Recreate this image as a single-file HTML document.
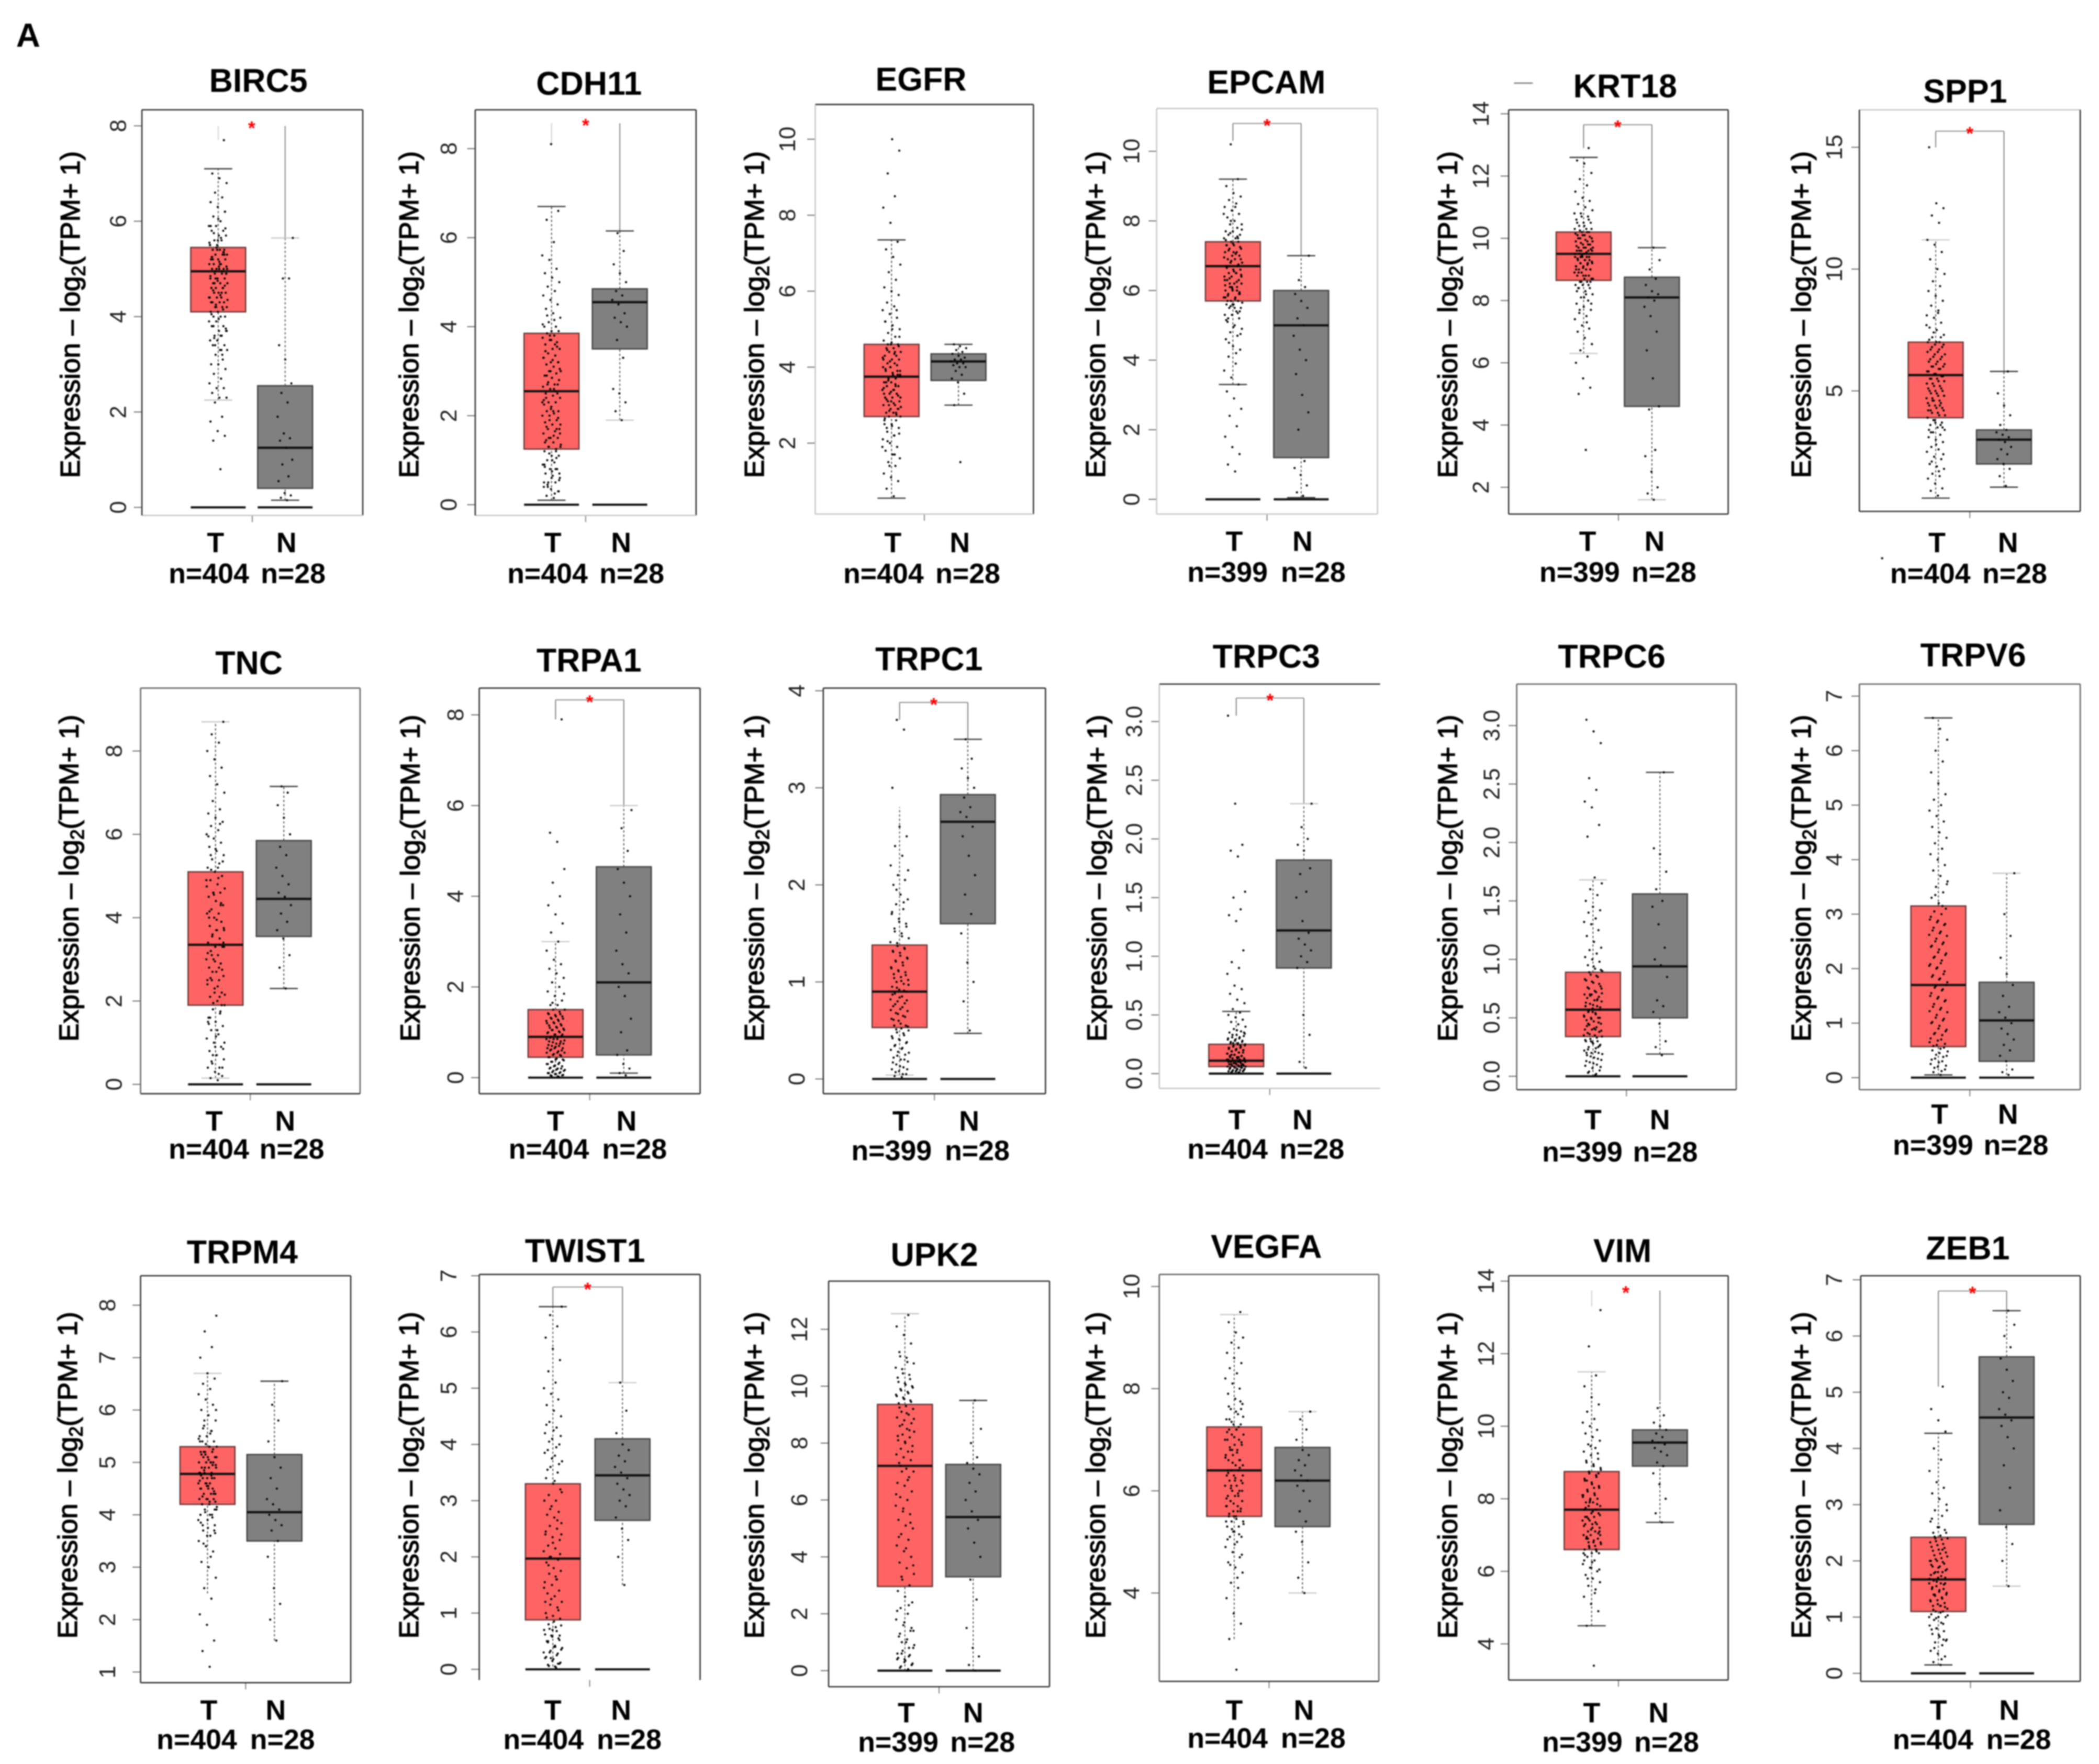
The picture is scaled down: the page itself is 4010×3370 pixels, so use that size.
<!DOCTYPE html>
<html lang="en">
<head>
<meta charset="utf-8">
<title>Gene expression boxplots</title>
<style>
html,body{margin:0;padding:0;background:#fff;width:4010px;height:3370px;overflow:hidden}
svg{display:block;filter:blur(1.4px)}
text{font-family:"Liberation Sans",Arial,sans-serif;fill:#000}
.title{font-weight:700;font-size:24.5px;text-anchor:middle}
.cat{font-weight:700;font-size:21px;text-anchor:middle}
.ylab{font-size:20.4px;text-anchor:middle;stroke:#000;stroke-width:.55px}
.tick{font-size:17px;text-anchor:middle;fill:#222}
.panel-letter{font-weight:700;font-size:25px}
.star{font-size:14px;fill:#f00;text-anchor:middle;font-weight:700}
</style>
</head>
<body>
<svg id="fig" xmlns="http://www.w3.org/2000/svg" width="4010" height="3370" viewBox="0 0 1568 1317.7">
<rect x="0" y="0" width="1568" height="1318" fill="#fff"/>
<text class="panel-letter" x="12" y="35">A</text>
<rect x="1131" y="61.6" width="14" height="0.9" fill="#777"/>
<circle cx="1406" cy="417" r="0.9" fill="#222"/>
</svg>
<script>
// ---------- DATA ----------
const genes = ["BIRC5","CDH11","EGFR","EPCAM","KRT18","SPP1","TNC","TRPA1","TRPC1","TRPC3","TRPC6","TRPV6","TRPM4","TWIST1","UPK2","VEGFA","VIM","ZEB1"];
const tumorCounts = [404,404,404,399,399,404,404,404,399,404,399,399,404,404,399,404,399,404];
const normalCounts = [28,28,28,28,28,28,28,28,28,28,28,28,28,28,28,28,28,28];
const tickLabels = [
 ["0","2","4","6","8"],["0","2","4","6","8"],["2","4","6","8","10"],["0","2","4","6","8","10"],["2","4","6","8","10","12","14"],["5","10","15"],
 ["0","2","4","6","8"],["0","2","4","6","8"],["0","1","2","3","4"],["0.0","0.5","1.0","1.5","2.0","2.5","3.0"],["0.0","0.5","1.0","1.5","2.0","2.5","3.0"],["0","1","2","3","4","5","6","7"],
 ["1","2","3","4","5","6","7","8"],["0","1","2","3","4","5","6","7"],["0","2","4","6","8","10","12"],["4","6","8","10"],["4","6","8","10","12","14"],["0","1","2","3","4","5","6","7"]];
// box statistics: [lower whisker, q1, median, q3, upper whisker]
const tumorBoxes = [
 [2.25,4.1,4.95,5.45,7.1],[0.1,1.25,2.55,3.85,6.7],[0.55,2.7,3.75,4.6,7.35],[3.3,5.7,6.7,7.4,9.2],[6.3,8.65,9.5,10.2,12.6],[0.6,3.9,5.65,7,11.2],
 [0.15,1.9,3.35,5.1,8.7],[0.05,0.45,0.9,1.5,3],[0.04,0.53,0.9,1.38,2.8],[0,0.06,0.11,0.25,0.53],[0,0.34,0.57,0.89,1.68],[0.05,0.57,1.7,3.15,6.6],
 [2.5,4.2,4.78,5.3,6.7],[0.05,0.88,1.97,3.3,6.45],[0,2.96,7.2,9.36,12.55],[3.1,5.5,6.4,7.25,9.45],[4.5,6.6,7.7,8.75,11.5],[0.15,1.1,1.67,2.42,4.27]];
const normalBoxes = [
 [0.15,0.4,1.25,2.55,5.65],[1.9,3.5,4.55,4.85,6.15],[3,3.65,4.15,4.35,4.6],[0.05,1.2,5,6,7],[1.6,4.6,8.1,8.75,9.7],[1.05,2,3,3.4,5.8],
 [2.3,3.55,4.45,5.85,7.15],[0.1,0.5,2.1,4.65,6],[0.47,1.6,2.65,2.93,3.5],[0.05,0.9,1.22,1.82,2.3],[0.19,0.5,0.94,1.56,2.6],[0.05,0.3,1.05,1.75,3.75],
 [1.6,3.5,4.05,5.15,6.55],[1.5,2.65,3.45,4.1,5.1],[0,3.3,5.4,7.25,9.5],[4,5.3,6.2,6.85,7.55],[7.35,8.9,9.55,9.9,10.7],[1.55,2.65,4.55,5.63,6.45]];
const hasZeroBar = [1,1,0,1,0,0,1,1,1,1,1,1,0,1,1,0,0,1];
// significance: 0 none, 1 star with legs only, 2 full bracket
const sigKinds = [1,1,0,2,2,2,0,2,2,2,0,0,0,2,0,0,1,2];
const sigLevels = [8,8.57,0,10.8,13.65,15.66,0,8.33,3.88,3.2,0,0,0,6.8,0,0,13.74,6.8];
const sigLeftEnds = [7.7,8.1,0,10.3,12.9,15,0,7.9,3.7,3.05,0,0,0,6.45,0,0,13.3,5.1];
const tumorDots = [
 [0.8,1.4,1.5,1.6,1.8,1.9,2.2,2.3,2.3,2.4,2.5,2.5,2.6,2.7,2.8,2.9,3,3,3.1,3.2,3.3,3.3,3.4,3.4,3.5,3.5,3.6,3.6,3.7,3.7,3.8,3.8,3.9,3.9,4,4,4,4.1,4.1,4.2,4.2,4.2,4.3,4.3,4.3,4.4,4.4,4.4,4.5,4.5,4.5,4.6,4.6,4.6,4.7,4.7,4.7,4.8,4.8,4.8,4.9,4.9,4.9,5,5,5,5,5.1,5.1,5.1,5.2,5.2,5.2,5.3,5.3,5.3,5.4,5.4,5.4,5.5,5.5,5.6,5.6,5.7,5.7,5.8,5.8,5.9,5.9,6,6.1,6.2,6.3,6.4,6.5,6.6,6.8,6.9,7,7.7],
 [0.15,0.2,0.3,0.35,0.4,0.5,0.5,0.6,0.65,0.7,0.8,0.8,0.9,0.95,1,1.1,1.1,1.2,1.25,1.3,1.3,1.4,1.45,1.5,1.5,1.6,1.65,1.7,1.7,1.8,1.85,1.9,1.9,2,2.05,2.1,2.1,2.2,2.25,2.3,2.3,2.4,2.45,2.5,2.5,2.6,2.65,2.7,2.7,2.8,2.85,2.9,2.95,3,3,3.1,3.15,3.2,3.2,3.3,3.35,3.4,3.5,3.5,3.6,3.65,3.7,3.75,3.8,3.85,3.9,3.9,4,4,4.1,4.2,4.3,4.4,4.5,4.6,4.7,4.8,4.9,5,5.1,5.2,5.3,5.5,5.6,5.9,6.4,6.6,8.1],
 [0.6,0.8,1,1.1,1.2,1.4,1.5,1.6,1.7,1.8,1.9,2,2.1,2.2,2.3,2.4,2.5,2.5,2.6,2.7,2.7,2.8,2.8,2.9,2.9,3,3,3.1,3.1,3.2,3.2,3.3,3.3,3.4,3.4,3.5,3.5,3.6,3.6,3.7,3.7,3.8,3.8,3.9,3.9,4,4,4.1,4.1,4.2,4.2,4.3,4.3,4.4,4.4,4.5,4.5,4.6,4.6,4.7,4.8,4.9,5,5.1,5.2,5.3,5.4,5.5,5.6,5.7,5.9,6,6.1,6.3,6.5,6.7,6.9,7.1,7.3,7.8,8.2,8.5,9.1,9.7,10],
 [0.8,1,1.3,1.5,1.8,2.1,2.4,2.6,2.9,3.1,3.3,3.5,3.7,3.9,4.1,4.3,4.4,4.6,4.7,4.8,4.9,5,5.1,5.2,5.3,5.3,5.4,5.5,5.5,5.6,5.6,5.7,5.7,5.8,5.8,5.9,5.9,6,6,6.1,6.1,6.2,6.2,6.3,6.3,6.4,6.4,6.5,6.5,6.6,6.6,6.7,6.7,6.8,6.8,6.9,6.9,7,7,7.1,7.1,7.2,7.2,7.3,7.3,7.4,7.4,7.5,7.5,7.6,7.6,7.7,7.7,7.8,7.9,7.9,8,8.1,8.2,8.3,8.4,8.5,8.6,8.7,8.8,9,9.2,10.2],
 [3.2,5,5.2,5.5,6,6.2,6.4,6.6,6.8,7,7.1,7.2,7.4,7.5,7.6,7.7,7.8,7.9,8,8.1,8.2,8.3,8.4,8.4,8.5,8.5,8.6,8.6,8.7,8.7,8.8,8.8,8.9,8.9,9,9,9,9.1,9.1,9.2,9.2,9.2,9.3,9.3,9.3,9.4,9.4,9.4,9.5,9.5,9.5,9.6,9.6,9.6,9.7,9.7,9.7,9.8,9.8,9.9,9.9,10,10,10.1,10.1,10.2,10.2,10.3,10.3,10.4,10.5,10.5,10.6,10.7,10.8,10.9,11,11.1,11.2,11.3,11.5,11.7,11.9,12.1,12.4,12.5,12.9],
 [0.7,0.9,1,1.2,1.4,1.5,1.6,1.8,1.9,2,2.2,2.3,2.5,2.6,2.7,2.9,3,3.1,3.2,3.3,3.4,3.5,3.6,3.7,3.8,3.9,4,4.1,4.2,4.3,4.4,4.5,4.6,4.7,4.8,4.9,5,5,5.1,5.2,5.3,5.4,5.5,5.5,5.6,5.7,5.8,5.9,6,6,6.1,6.2,6.3,6.4,6.5,6.6,6.7,6.8,6.9,7,7,7.2,7.3,7.5,7.6,7.8,8,8.1,8.3,8.5,8.7,8.9,9.1,9.3,9.5,9.8,10,10.4,10.7,11,11.2,11.9,12.2,12.5,12.7,15],
 [0.1,0.15,0.2,0.3,0.4,0.4,0.5,0.6,0.7,0.8,0.9,1,1.1,1.2,1.3,1.4,1.5,1.6,1.7,1.8,1.9,2,2.1,2.2,2.3,2.4,2.5,2.5,2.6,2.7,2.8,2.9,3,3,3.1,3.2,3.3,3.3,3.4,3.5,3.6,3.7,3.7,3.8,3.9,4,4.1,4.1,4.2,4.3,4.4,4.5,4.6,4.6,4.7,4.8,4.9,5,5.1,5.2,5.3,5.4,5.5,5.6,5.7,5.8,5.9,6,6.1,6.2,6.3,6.4,6.5,6.6,6.8,7,7.2,7.4,7.6,7.8,8,8.2,8.4,8.7],
 [0.03,0.05,0.05,0.08,0.1,0.1,0.12,0.15,0.18,0.2,0.2,0.25,0.3,0.3,0.35,0.4,0.4,0.45,0.5,0.5,0.55,0.55,0.6,0.6,0.65,0.65,0.7,0.7,0.75,0.75,0.8,0.8,0.85,0.85,0.9,0.9,0.95,0.95,1,1,1.05,1.05,1.1,1.1,1.15,1.2,1.2,1.25,1.3,1.3,1.35,1.4,1.4,1.5,1.5,1.6,1.6,1.7,1.8,1.9,2,2.1,2.2,2.3,2.4,2.5,2.6,2.8,3,3.2,3.4,3.6,3.8,4,4.3,4.6,5.2,5.4,7.9],
 [0.02,0.03,0.05,0.08,0.1,0.12,0.15,0.18,0.2,0.22,0.25,0.28,0.3,0.32,0.35,0.38,0.4,0.42,0.45,0.48,0.5,0.52,0.55,0.55,0.6,0.62,0.65,0.68,0.7,0.72,0.75,0.78,0.8,0.82,0.85,0.88,0.9,0.92,0.95,0.98,1,1.02,1.05,1.08,1.1,1.12,1.15,1.2,1.22,1.25,1.3,1.32,1.35,1.4,1.45,1.5,1.55,1.6,1.65,1.7,1.75,1.8,1.85,1.9,2,2.05,2.1,2.2,2.3,2.4,2.5,2.6,3,3.6,3.7],
 [0.01,0.01,0.02,0.02,0.02,0.03,0.03,0.04,0.04,0.05,0.05,0.05,0.06,0.06,0.07,0.07,0.08,0.08,0.09,0.09,0.1,0.1,0.1,0.11,0.11,0.12,0.12,0.13,0.13,0.14,0.15,0.15,0.16,0.17,0.18,0.19,0.2,0.2,0.21,0.22,0.23,0.24,0.25,0.26,0.27,0.28,0.29,0.3,0.31,0.32,0.33,0.35,0.36,0.38,0.4,0.42,0.44,0.46,0.48,0.5,0.52,0.55,0.6,0.63,0.68,0.72,0.75,0.85,0.9,0.95,1.05,1.3,1.35,1.4,1.5,1.55,1.85,1.9,1.95,2.3,3.05],
 [0.01,0.03,0.05,0.07,0.09,0.1,0.12,0.14,0.16,0.18,0.2,0.2,0.22,0.24,0.25,0.27,0.28,0.3,0.3,0.32,0.34,0.35,0.37,0.38,0.4,0.4,0.42,0.44,0.45,0.47,0.48,0.5,0.5,0.52,0.54,0.55,0.57,0.58,0.6,0.6,0.62,0.64,0.65,0.67,0.68,0.7,0.7,0.72,0.75,0.77,0.8,0.82,0.85,0.87,0.9,0.92,0.95,0.98,1,1.02,1.05,1.08,1.1,1.15,1.2,1.25,1.3,1.32,1.35,1.4,1.42,1.45,1.5,1.55,1.6,1.65,1.7,2.05,2.15,2.3,2.35,2.45,2.55,2.85,2.95,3.05],
 [0.05,0.1,0.15,0.2,0.25,0.3,0.35,0.4,0.45,0.5,0.55,0.6,0.65,0.7,0.8,0.85,0.9,1,1.05,1.1,1.2,1.25,1.3,1.4,1.45,1.5,1.6,1.65,1.7,1.8,1.85,1.9,2,2.05,2.1,2.2,2.25,2.3,2.4,2.45,2.5,2.6,2.65,2.7,2.8,2.85,2.9,3,3.05,3.1,3.2,3.3,3.4,3.5,3.6,3.7,3.8,3.9,4,4.1,4.2,4.3,4.4,4.5,4.6,4.7,4.8,4.9,5,5.1,5.2,5.4,5.6,5.8,6,6.2,6.4,6.6],
 [1.1,1.4,1.6,1.9,2.1,2.4,2.6,2.8,3,3.1,3.3,3.4,3.5,3.6,3.7,3.8,3.9,4,4,4.1,4.1,4.2,4.2,4.3,4.3,4.3,4.4,4.4,4.4,4.5,4.5,4.5,4.6,4.6,4.6,4.7,4.7,4.7,4.8,4.8,4.8,4.9,4.9,4.9,5,5,5,5,5.1,5.1,5.1,5.2,5.2,5.2,5.3,5.3,5.4,5.4,5.5,5.5,5.6,5.7,5.8,5.9,6,6.1,6.2,6.3,6.4,6.5,6.6,6.7,7,7.2,7.5,7.8],
 [0.05,0.08,0.1,0.15,0.2,0.25,0.3,0.35,0.4,0.5,0.55,0.6,0.7,0.75,0.8,0.9,0.95,1,1.1,1.15,1.2,1.3,1.35,1.4,1.5,1.55,1.6,1.7,1.75,1.8,1.9,1.95,2,2.1,2.15,2.2,2.3,2.35,2.4,2.5,2.55,2.6,2.7,2.75,2.8,2.9,3,3,3.1,3.2,3.3,3.4,3.5,3.6,3.7,3.8,3.9,4,4.1,4.2,4.3,4.4,4.5,4.6,4.7,4.8,4.9,5,5.1,5.3,5.5,5.7,5.9,6.1,6.3,6.45],
 [0,0.1,0.2,0.3,0.4,0.5,0.6,0.8,1,1.2,1.4,1.6,1.8,2,2.2,2.4,2.6,2.8,3,3.2,3.4,3.6,3.8,4,4.2,4.4,4.6,4.8,5,5.1,5.3,5.5,5.6,5.8,6,6.1,6.3,6.5,6.6,6.8,7,7,7.1,7.3,7.4,7.5,7.6,7.7,7.8,7.9,8,8.1,8.2,8.3,8.4,8.5,8.6,8.7,8.8,8.9,9,9.1,9.2,9.3,9.4,9.5,9.6,9.7,9.8,9.9,10,10.1,10.3,10.4,10.6,10.8,11,11.2,11.5,11.8,12.1,12.5],
 [2.5,3.1,3.4,3.6,3.9,4.1,4.2,4.4,4.5,4.6,4.7,4.8,4.9,5,5.1,5.1,5.2,5.3,5.3,5.4,5.4,5.5,5.5,5.6,5.6,5.7,5.7,5.8,5.8,5.9,5.9,6,6,6.1,6.1,6.2,6.2,6.3,6.3,6.4,6.4,6.5,6.5,6.6,6.6,6.7,6.7,6.8,6.8,6.9,6.9,7,7,7.1,7.1,7.2,7.2,7.3,7.3,7.4,7.5,7.6,7.7,7.8,7.9,8,8.1,8.2,8.3,8.4,8.5,8.6,8.7,8.8,8.9,9,9.1,9.3,9.5],
 [3.4,4.5,4.9,5.1,5.3,5.5,5.6,5.7,5.8,5.9,6,6.1,6.2,6.3,6.4,6.5,6.5,6.6,6.6,6.7,6.8,6.8,6.9,6.9,7,7,7.1,7.1,7.2,7.2,7.3,7.3,7.4,7.4,7.5,7.5,7.6,7.6,7.7,7.7,7.8,7.8,7.9,7.9,8,8,8.1,8.1,8.2,8.3,8.4,8.5,8.6,8.7,8.8,8.9,9,9.1,9.2,9.3,9.4,9.5,9.6,9.7,9.8,9.9,10,10.1,10.2,10.4,10.6,10.8,11.1,11.4,12.2,13.2],
 [0.15,0.2,0.3,0.35,0.4,0.5,0.55,0.6,0.65,0.7,0.75,0.8,0.85,0.9,0.95,1,1,1.05,1.1,1.1,1.15,1.2,1.2,1.25,1.3,1.3,1.35,1.4,1.4,1.45,1.5,1.5,1.55,1.6,1.6,1.65,1.7,1.7,1.75,1.8,1.8,1.85,1.9,1.9,1.95,2,2,2.05,2.1,2.15,2.2,2.25,2.3,2.35,2.4,2.45,2.5,2.55,2.6,2.7,2.8,2.9,3,3.1,3.2,3.3,3.4,3.6,3.8,4,4.3,4.5,4.7,5.1]
];
// further readings from the dense central part of each tumor column
const tumorDotsDense = [
 [3.3,3.55,3.75,3.95,4.05,4.15,4.25,4.35,4.45,4.55,4.65,4.75,4.85,4.95,4.95,5.05,5.15,5.25,5.35,5.45,5.55,5.65,5.75,5.85,6.05,4.3,4.6,4.8,5,5.1,5.2,5.3,5.4,5.5,4.5,4.7,4.9,5.05,5.25,5.35,4.2,4.4,3.6,3.8,6.2,5.6,5.9,3.2,3.4,3.7],
 [0.25,0.45,0.55,0.75,0.85,1.05,1.15,1.35,1.55,1.75,1.95,2.15,2.35,2.55,2.75,3.05,3.25,3.45,3.55,3.8,4.05,4.15,4.25,0.3,0.6,0.9,1.2,1.5,1.8,2.1,2.4,2.7,3,3.3,3.6,0.4,0.7,1,1.4,1.7,2,2.3,2.6,2.9,3.2,3.7,0.5,0.8,1.3,1.6],
 [1.7,2.05,2.25,2.45,2.65,2.75,2.85,2.95,3.05,3.15,3.25,3.35,3.45,3.55,3.65,3.75,3.85,3.95,4.05,4.15,4.25,4.35,4.45,4.55,4.65,2.6,2.8,3,3.2,3.4,3.6,3.8,4,4.2,4.4,4.6,4.8,5,5.2,5.5,1.4,1.9,2.2,2.4,2.9,3.1,3.3,3.5,3.7,3.9],
 [4.2,4.5,4.75,4.95,5.15,5.35,5.55,5.65,5.75,5.85,5.95,6.05,6.15,6.25,6.35,6.45,6.55,6.65,6.75,6.85,6.95,7.05,7.15,7.25,7.35,7.45,7.55,7.65,7.75,5.5,5.7,5.9,6.1,6.3,6.5,6.7,6.9,7.1,7.3,7.5,8,8.2,8.4,5.2,5.4,5.6,5.8,6,6.2,6.4],
 [7.3,7.7,7.9,8.1,8.3,8.5,8.6,8.7,8.8,8.9,9,9.05,9.1,9.15,9.2,9.25,9.3,9.35,9.4,9.45,9.5,9.55,9.6,9.65,9.7,9.75,9.8,9.85,9.9,9.95,10,10.05,10.1,10.15,10.2,10.25,10.3,10.4,10.5,10.6,10.7,10.8,8.2,8.4,8.6,8.8,9,9.2,9.4,9.6],
 [1.7,2.1,2.4,2.8,3.4,3.6,3.8,4,4.1,4.2,4.3,4.4,4.5,4.6,4.7,4.8,4.9,5,5.1,5.2,5.3,5.4,5.5,5.6,5.7,5.8,5.9,6,6.1,6.2,6.3,6.4,6.5,6.6,6.7,6.8,6.9,7,7.1,7.2,7.4,7.7,8.2,3.3,3.5,3.7,4.2,4.4,4.6,4.8],
 [0.25,0.55,0.85,1.15,1.45,1.75,1.95,2.15,2.35,2.55,2.75,2.95,3.15,3.35,3.55,3.75,3.95,4.15,4.35,4.55,4.75,4.95,5.15,5.35,5.65,5.95,6.25,0.7,1,1.3,1.6,1.9,2.2,2.5,2.8,3.1,3.4,3.7,4,4.3,4.6,4.9,5.2,5.5,0.4,0.9,1.5,2.1,2.7,3.3],
 [0.02,0.04,0.06,0.08,0.1,0.12,0.15,0.17,0.2,0.22,0.25,0.27,0.3,0.33,0.35,0.38,0.42,0.45,0.48,0.52,0.55,0.58,0.62,0.65,0.68,0.72,0.75,0.78,0.82,0.85,0.88,0.92,0.95,0.98,1.02,1.05,1.08,1.12,1.15,1.18,1.22,1.25,1.28,1.32,1.35,1.38,1.42,1.45,1.65,1.85],
 [0.05,0.07,0.1,0.13,0.17,0.2,0.24,0.27,0.31,0.34,0.37,0.41,0.44,0.47,0.51,0.54,0.57,0.61,0.64,0.67,0.71,0.74,0.77,0.81,0.84,0.87,0.91,0.94,0.97,1.01,1.04,1.07,1.11,1.14,1.17,1.21,1.24,1.27,1.31,1.34,1.37,1.41,1.47,1.52,1.57,1.62,1.72,1.82,1.95,2.15],
 [0.01,0.02,0.03,0.03,0.04,0.05,0.06,0.06,0.07,0.08,0.08,0.09,0.1,0.1,0.11,0.12,0.13,0.14,0.15,0.16,0.17,0.18,0.19,0.2,0.21,0.22,0.23,0.24,0.25,0.26,0.27,0.28,0.29,0.3,0.31,0.33,0.35,0.37,0.04,0.07,0.09,0.12,0.14,0.16,0.18,0.2,0.22,0.24,0.26,0.34],
 [0.02,0.04,0.08,0.11,0.13,0.15,0.17,0.19,0.21,0.23,0.26,0.29,0.31,0.33,0.36,0.39,0.41,0.43,0.46,0.49,0.51,0.53,0.56,0.59,0.61,0.63,0.66,0.69,0.71,0.73,0.76,0.79,0.81,0.83,0.86,0.89,0.91,0.94,0.2,0.25,0.3,0.35,0.4,0.45,0.5,0.55,0.6,0.65,0.7,0.75],
 [0.12,0.18,0.22,0.28,0.33,0.38,0.42,0.48,0.53,0.58,0.62,0.68,0.72,0.78,0.82,0.88,0.95,1.02,1.08,1.15,1.22,1.28,1.35,1.42,1.48,1.55,1.62,1.68,1.75,1.82,1.88,1.95,2.02,2.08,2.15,2.22,2.28,2.35,2.42,2.48,2.55,2.62,2.68,2.75,2.82,2.88,2.95,3.15,3.35,3.55],
 [3.2,3.45,3.65,3.75,3.85,3.95,4.05,4.15,4.25,4.35,4.45,4.55,4.65,4.75,4.85,4.95,5.05,5.15,5.25,5.35,5.45,5.55,5.65,4.1,4.3,4.5,4.7,4.9,5.1,5.3,4.2,4.4,4.6,4.8,5,5.2,4.25,4.55,4.75,4.95,5.15,3.9,4,3.8,3.7,3.6,5.4,5.6,5.8,6],
 [0.03,0.06,0.12,0.18,0.22,0.28,0.33,0.38,0.42,0.48,0.52,0.58,0.62,0.68,0.72,0.78,0.85,0.92,1.05,1.25,1.45,1.65,1.85,2.05,2.25,2.45,2.65,2.85,3.15,3.35,3.55,3.65,3.75,3.85,3.95,4.05,4.15,4.25,4.35,0.1,0.2,0.3,0.4,0.5,0.6,0.7,1.2,1.6,2,2.4],
 [0.05,0.15,0.25,0.35,0.45,0.55,0.7,0.9,1.1,1.3,1.5,1.7,2.1,2.3,3.3,3.7,4.3,4.7,5.2,5.7,6.2,6.7,7.2,7.7,8.05,8.25,8.45,8.65,8.85,9.05,9.25,9.45,9.55,9.65,9.75,9.85,9.95,10.05,10.15,10.25,10.45,10.65,10.85,11.05,0.2,0.4,0.6,0.8,1,1.4],
 [4.3,4.55,4.75,4.95,5.05,5.15,5.25,5.35,5.45,5.55,5.65,5.75,5.85,5.95,6.05,6.15,6.25,6.35,6.45,6.55,6.65,6.75,6.85,6.95,7.05,7.15,7.25,7.35,7.45,7.55,7.65,7.75,5.2,5.4,5.6,5.8,6,6.2,6.4,6.6,6.8,7,7.2,7.4,7.6,5.5,5.7,5.9,6.1,6.3],
 [5.4,5.8,6.05,6.25,6.45,6.55,6.65,6.75,6.85,6.95,7.05,7.15,7.25,7.35,7.45,7.55,7.65,7.75,7.85,7.95,8.05,8.15,8.25,8.35,8.45,8.55,8.65,8.75,8.85,8.95,9.05,9.25,9.45,6.5,6.7,6.9,7.1,7.3,7.5,7.7,7.9,8.1,8.3,8.5,8.7,6.1,6.3,6.6,6.8,7],
 [0.25,0.45,0.58,0.68,0.78,0.88,0.98,1.03,1.08,1.13,1.18,1.23,1.28,1.33,1.38,1.43,1.48,1.53,1.58,1.63,1.68,1.73,1.78,1.83,1.88,1.93,1.98,2.03,2.08,2.13,2.18,2.23,2.28,2.33,2.38,2.43,2.5,2.6,2.75,0.6,0.8,1,1.2,1.4,1.6,1.8,2,2.2,2.4,2.9]
];
const normalDots = [
 [0.15,0.2,0.25,0.3,0.55,0.65,0.9,1,1.25,1.4,1.45,1.55,1.9,2.2,2.4,2.6,3.1,3.4,4.8,4.8,5.65],
 [1.9,2.1,2.3,2.5,2.6,3.3,3.7,4,4.1,4.2,4.3,4.5,4.6,4.7,4.8,5,5.2,5.4,5.7,6.1],
 [1.5,3,3.3,3.6,3.7,3.8,3.9,4,4,4.05,4.1,4.1,4.15,4.2,4.2,4.25,4.3,4.35,4.4,4.45,4.5,4.55,4.6],
 [0.1,0.2,0.4,0.7,0.9,1.1,2,2.5,3,3.6,4,4.3,4.7,5,5.2,5.5,5.7,5.9,6.1,6.3,7],
 [1.6,1.8,2,2.5,3,3.2,4.5,4.6,5.5,6.4,7,7.5,7.8,8,8.1,8.2,8.3,8.5,8.7,9,9.3,9.7],
 [1.1,1.5,1.8,2,2.2,2.4,2.6,2.7,2.9,3,3.1,3.2,3.3,3.4,3.6,4,4.4,4.9,5.8],
 [2.3,2.8,3.1,3.5,3.7,3.9,4.1,4.3,4.5,4.6,4.8,5,5.2,5.5,5.7,6,6.4,6.7,7,7.15],
 [0.05,0.1,0.2,0.3,0.5,0.6,1,1.3,1.8,2,2.3,2.5,2.8,3.2,3.6,4,4.3,4.6,5,5.5,5.9],
 [0.5,0.8,1,1.2,1.5,1.7,1.9,2.1,2.3,2.5,2.6,2.7,2.75,2.8,2.9,3,3.1,3.2,3.3,3.5],
 [0.05,0.1,0.33,0.5,0.9,0.95,1,1.05,1.1,1.15,1.2,1.3,1.5,1.55,1.7,1.75,1.9,1.95,2,2.1,2.3],
 [0.18,0.25,0.3,0.45,0.55,0.6,0.65,0.85,0.95,1,1.1,1.3,1.45,1.5,1.6,1.75,1.9,1.95,2.6],
 [0.05,0.1,0.15,0.3,0.4,0.5,0.6,0.7,0.8,0.9,1,1.1,1.2,1.3,1.5,1.7,1.9,2.2,2.6,3,3.75],
 [1.6,2,2.3,2.6,3.2,3.5,3.7,3.8,3.9,4,4.1,4.2,4.3,4.5,4.7,4.9,5.1,5.4,5.8,6.1,6.55],
 [1.5,2,2.3,2.5,2.7,2.9,3,3.1,3.2,3.3,3.4,3.5,3.6,3.7,3.8,3.9,4,4.2,4.6,5.1],
 [0,0.2,0.5,0.8,1.5,2.5,3.2,4,4.5,5,5.3,5.6,6,6.3,6.6,6.9,7.1,7.3,7.5,8,8.5,9.5],
 [4,4.3,4.6,5,5.2,5.4,5.6,5.8,6,6.1,6.2,6.3,6.4,6.5,6.6,6.7,6.8,7,7.2,7.4,7.55],
 [7.35,7.6,8,8.4,8.7,8.9,9,9.2,9.3,9.4,9.5,9.55,9.6,9.7,9.8,9.9,10,10.1,10.3,10.5],
 [1.55,2,2.3,2.6,2.9,3.3,3.7,4,4.2,4.4,4.5,4.6,4.7,4.9,5,5.2,5.4,5.6,5.8,6,6.2,6.45]
];

// ---------- LAYOUT (figure geometry per panel, separate from the data) ----------
const frameRects = [[106,82,271,385],[355,82,520,385],[609,78,772,384],[864,81,1029,384],[1127,82,1291,384],[1389,82,1554,382],
 [105,514,269,817],[358,514,523,817],[615,514,781,817],[866,511,1031,813],[1133,511,1297,814],[1389,511,1554,814],
 [105,953,262,1257],[358,952,523,1255],[619,957,784,1260],[866,952,1030,1256],[1127,953,1291,1255],[1390,953,1554,1256]];
// frame edge tone per side, order top/right/bottom/left: d dark, m mid, l light, n none
const frameEdges = ["ddld","ddld","ddll","llll","dddd","lddd","mmdm","dddd","dddd","dnll","mmdm","mmmm","dddd","ddnd","dddd","mmdm","dddd","dddd"];
// whisker cap tone, order tumor low/tumor high/normal low/normal high
const capTones = ["lddl","ddld","dddd","dddd","ldld","dldd","lldd","nldl","lndd","ndnl","nldd","ddnl","nlnd","ndnl","nlnd","nlll","dldn","ddld"];
const tickPixels = [[379,94],[377,111],[331,104],[373,113],[364,85],[292,110],[810,561],[805,534],[806,516],[802,539],[804,542],[805,520],[1249,975],[1247,953],[1248,993],[1190,961],[1228,957],[1250,956]];
const boxCenters = [[163,213],[412,463],[666,716],[921,972],[1183,1234],[1446,1497],[161,212],[415,466],[672,723],[923.5,974],[1190,1240],[1448,1499],[155,205],[413,465],[676,727],[922,973],[1189,1240],[1448,1499]];
const titleAnchors = [[193,60],[440,62],[688,59],[946,61],[1214,64],[1468,68],[186,495],[440,493],[694,492],[946,490],[1204,490],[1474,489],[181,935],[437,934],[698,937],[946,931],[1212,934],[1470,932]];
const catLabelX = [[161,214],[413,464],[667,717],[922,973],[1186,1236],[1447,1500],[160,213],[415,468],[673,724],[924,973],[1190,1240],[1449,1500],[156,206],[413,464],[677,727],[922,974],[1189,1239],[1448,1501]];
const countLabelX = [[156,219],[409,472],[660,723],[917,981],[1180,1243],[1442,1505],[156,218],[410,474],[666,730],[917,980],[1182,1244],[1444,1506],[147,211],[406,470],[671,734],[917,981],[1182,1245],[1444,1508]];
const labelRows = [[405,428],[405,428],[405,428],[404,427],[404,427],[405,428],[837,858],[837,858],[837,859],[836,858],[836,860],[832,855],[1277,1299],[1277,1299],[1279,1301],[1277,1298],[1279,1301],[1277,1299]];
const yTitleAnchors = [[52,235],[305,235],[563,235],[818,235],[1081,235],[1345,235],[51,656],[306,656],[563,656],[819,656],[1081,656],[1345,656],[50,1102],[305,1102],[563,1102],[818,1102],[1081,1102],[1345,1102]];
const tickTextX = [88,335,588,845,1106,1370,85,340,595,847,1114,1370,80,335,597,845,1110,1370];

// ---------- DRAWING ----------
const NS = "http://www.w3.org/2000/svg";
const fig = document.getElementById("fig");
const edgeColors = {d:"#333",m:"#666",l:"#c8c8c8"};
const capColors = {d:"#333",l:"#c8c8c8"};
const jitterPhase = 0.6180339887;

function node(parent, tag, attrs, name){
  const el = document.createElementNS(NS, tag);
  for (const k in attrs) el.setAttribute(k, attrs[k]);
  
  
  parent.appendChild(el);
  return el;
}
function line(parent, x1, y1, x2, y2, stroke, width, name, dash){
  const a = {x1, y1, x2, y2, stroke, "stroke-width": width};
  if (dash) a["stroke-dasharray"] = dash;
  return node(parent, "line", a, name);
}
function axisY(i){
  const ticks = tickLabels[i].map(parseFloat);
  const v0 = ticks[0], v1 = ticks[ticks.length - 1];
  const p0 = tickPixels[i][0], p1 = tickPixels[i][1];
  return v => p0 + (v - v0) * (p1 - p0) / (v1 - v0);
}
function drawBox(g, cx, stats, fill, edge, capLow, capHigh, y, label){
  const hw = 20.5, cap = 10.5;
  const lo = y(stats[0]), q1 = y(stats[1]), med = y(stats[2]), q3 = y(stats[3]), hi = y(stats[4]);
  line(g, cx, lo, cx, q1, "#222", 0.6, label + "-lower-whisker", "1.6 1.6");
  line(g, cx, q3, cx, hi, "#222", 0.6, label + "-upper-whisker", "1.6 1.6");
  if (capLow !== "n") line(g, cx - cap, lo, cx + cap, lo, capColors[capLow], 0.9, label + "-lower-cap");
  if (capHigh !== "n") line(g, cx - cap, hi, cx + cap, hi, capColors[capHigh], 0.9, label + "-upper-cap");
  node(g, "rect", {x: cx - hw, y: q3, width: hw * 2, height: q1 - q3, fill: fill, stroke: edge, "stroke-width": 1}, label + "-box");
  line(g, cx - hw, med, cx + hw, med, "#111", 1.7, label + "-median");
}
function drawDots(g, cx, values, y, spread, label, seed){
  values.forEach((v, k) => {
    const off = (((k + seed) * jitterPhase) % 1 - 0.5) * spread;
    node(g, "circle", {cx: cx + off, cy: y(v), r: 0.8, fill: "#000"}, label + "-point");
  });
}

genes.forEach((gene, i) => {
  const g = node(fig, "g", {}, "panel-" + gene.toLowerCase());
  const [l, t, r, b] = frameRects[i];
  const y = axisY(i);
  const [xT, xN] = boxCenters[i];
  const e = frameEdges[i];
  const caps = capTones[i];

  const title = node(g, "text", {class: "title", x: titleAnchors[i][0], y: titleAnchors[i][1] + 8.7}, "panel-title");
  title.textContent = gene;

  // y axis
  const yt = yTitleAnchors[i];
  const yTitle = node(g, "text", {class: "ylab", transform: "rotate(-90 " + (yt[0] + 7.5) + " " + yt[1] + ")", x: yt[0] + 7.5, y: yt[1]}, "y-axis-title");
  yTitle.innerHTML = 'Expression – log<tspan font-size="14" dy="4">2</tspan><tspan dy="-4">(TPM+ 1)</tspan>';
  tickLabels[i].forEach(lbl => {
    const py = y(parseFloat(lbl));
    line(g, l - 6, py, l, py, "#666", 0.7, "y-axis-tick");
    const tx = tickTextX[i] + 6;
    const tk = node(g, "text", {class: "tick", x: tx, y: py, transform: "rotate(-90 " + tx + " " + py + ")"}, "y-tick-label");
    tk.textContent = lbl;
  });
  const xMid = (l + r) / 2;
  line(g, xMid, b, xMid, b + 5, "#777", 0.7, "x-axis-tick");

  // significance legs
  const kind = sigKinds[i];
  if (kind > 0){
    const top = y(sigLevels[i]);
    line(g, xT, top, xT, y(sigLeftEnds[i]), kind === 1 ? "#ccc" : "#777", 0.7, "significance-left-leg");
    line(g, xN, top, xN, y(normalBoxes[i][4]), "#777", 0.7, "significance-right-leg");
    if (kind === 2) line(g, xT, top, xN, top, "#888", 0.7, "significance-bracket");
    const s = node(g, "text", {class: "star", x: (xT + xN) / 2, y: top + 6.5}, "significance-star");
    s.textContent = "*";
  }

  drawBox(g, xT, tumorBoxes[i], "#fe6464", "#6b3a3a", caps[0], caps[1], y, "tumor");
  drawBox(g, xN, normalBoxes[i], "#808080", "#444", caps[2], caps[3], y, "normal");

  if (hasZeroBar[i]){
    line(g, xT - 20.5, y(0), xT + 20.5, y(0), "#111", 1.6, "tumor-zero-bar");
    line(g, xN - 20.5, y(0), xN + 20.5, y(0), "#111", 1.6, "normal-zero-bar");
  }
  drawDots(g, xT, tumorDots[i], y, 14, "tumor", 1);
  drawDots(g, xT, tumorDotsDense[i], y, 14, "tumor", 137);
  drawDots(g, xN, normalDots[i], y, 12, "normal", 1);

  // frame
  const sides = [[l, t, r, t], [r, t, r, b], [l, b, r, b], [l, t, l, b]];
  const sideNames = ["frame-top", "frame-right", "frame-bottom", "frame-left"];
  sides.forEach((s, k) => {
    const c = e[k];
    if (c !== "n") line(g, s[0], s[1], s[2], s[3], edgeColors[c], 1, sideNames[k]);
  });

  // category labels
  const rows = labelRows[i];
  const cT = node(g, "text", {class: "cat", x: catLabelX[i][0], y: rows[0] + 7.6}, "tumor-group-label");
  cT.textContent = "T";
  const cN = node(g, "text", {class: "cat", x: catLabelX[i][1], y: rows[0] + 7.6}, "normal-group-label");
  cN.textContent = "N";
  const nT = node(g, "text", {class: "cat", x: countLabelX[i][0], y: rows[1] + 7.6}, "tumor-sample-count");
  nT.textContent = "n=" + tumorCounts[i];
  const nN = node(g, "text", {class: "cat", x: countLabelX[i][1], y: rows[1] + 7.6}, "normal-sample-count");
  nN.textContent = "n=" + normalCounts[i];
});
</script>
</body>
</html>
